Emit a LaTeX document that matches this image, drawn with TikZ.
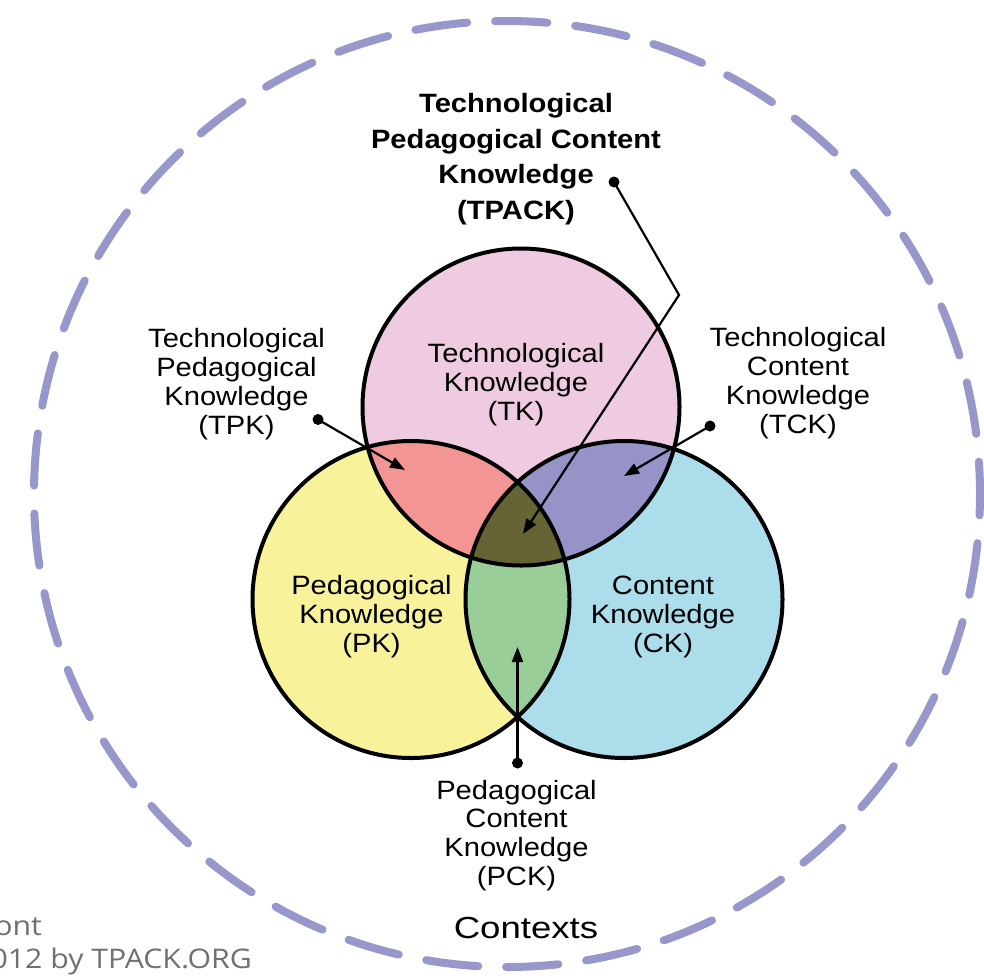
\documentclass[tikz,border=0pt]{standalone}
\usepackage{fontspec}
\setmainfont{Liberation Sans}[FakeStretch=1.1]
\newfontfamily\ctxfont{Liberation Sans}[FakeStretch=1.2]
\newfontfamily\notefont{Open Sans}[FakeStretch=1.12]
\usetikzlibrary{arrows.meta}
\definecolor{tkc}{HTML}{EFCBE1}
\definecolor{pkc}{HTML}{F8F29A}
\definecolor{ckc}{HTML}{ABDDEA}
\definecolor{tpkc}{HTML}{F49595}
\definecolor{tckc}{HTML}{9593C8}
\definecolor{pckc}{HTML}{99CE99}
\definecolor{tpackc}{HTML}{666434}
\definecolor{ctxc}{HTML}{9897CB}
\definecolor{notec}{HTML}{707070}
\newcommand{\myR}{158.5pt}
\begin{document}
\begin{tikzpicture}[x=1pt,y=-1pt,
  lbl/.style={align=center, inner sep=0pt, anchor=base, font=\fontsize{26.5}{28.8}\selectfont},
  ttl/.style={align=center, inner sep=0pt, anchor=base, font=\bfseries\fontsize{26.5}{35.5}\selectfont},
  ring/.style={line width=4pt},
  conn/.style={line width=2.2pt, -{Triangle[length=15pt,width=11pt]}},
  dotnode/.style={circle, fill=black, inner sep=0pt, minimum size=11pt},
  ctxring/.style={line width=8pt, draw=ctxc, line cap=round, dash pattern=on 52.3pt off 28pt, dash phase=20pt},
  note/.style={inner sep=0pt, anchor=base east, text=notec, font=\notefont\fontsize{27}{30}\selectfont}
]
\useasboundingbox (0,0) rectangle (984,975);
\fill[white] (0,0) rectangle (984,975);

% outer contexts ring
\draw[ctxring] (507,494) circle[radius=473pt];

% circle centres
\coordinate (ctk) at (521,407);
\coordinate (cpk) at (411,599.5);
\coordinate (cck) at (624,599.5);

% base fills
\fill[tkc] (ctk) circle[radius=\myR];
\fill[pkc] (cpk) circle[radius=\myR];
\fill[ckc] (cck) circle[radius=\myR];
% pairwise overlaps
\begin{scope}
  \clip (ctk) circle[radius=\myR];
  \fill[tpkc] (cpk) circle[radius=\myR];
  \fill[tckc] (cck) circle[radius=\myR];
\end{scope}
\begin{scope}
  \clip (cpk) circle[radius=\myR];
  \fill[pckc] (cck) circle[radius=\myR];
\end{scope}
% triple overlap
\begin{scope}
  \clip (ctk) circle[radius=\myR];
  \clip (cpk) circle[radius=\myR];
  \fill[tpackc] (cck) circle[radius=\myR];
\end{scope}
% outlines
\draw[ring] (ctk) circle[radius=\myR];
\draw[ring] (cpk) circle[radius=\myR];
\draw[ring] (cck) circle[radius=\myR];

% labels (anchor = baseline of the last line)
\node[ttl] (tpack) at (516,219) {Technological\\Pedagogical Content\\Knowledge\\(TPACK)};
\node[lbl] (tk) at (516,420.5) {Technological\\Knowledge\\(TK)};
\node[lbl] (tpk) at (236.5,434) {Technological\\Pedagogical\\Knowledge\\(TPK)};
\node[lbl] (tck) at (798,433) {Technological\\Content\\Knowledge\\(TCK)};
\node[lbl] (pk) at (371.5,652.5) {Pedagogical\\Knowledge\\(PK)};
\node[lbl] (ck) at (663,652.5) {Content\\Knowledge\\(CK)};
\node[lbl] (pck) at (516.5,885.5) {Pedagogical\\Content\\Knowledge\\(PCK)};
\node[inner sep=0pt, anchor=base, font=\ctxfont\fontsize{30.5}{34}\selectfont] (ctx) at (526,938) {Contexts};
\node[note] (note1) at (42,935) {ont};
\node[note] (note2) at (252,968) {012 by TPACK.ORG};

% connectors
\node[dotnode] (dtpack) at (614,182) {};
\coordinate (btpack) at (679,295);
\coordinate (atpack) at (523,534);
\draw[conn] (dtpack.center) -- (btpack) -- (atpack);

\node[dotnode] (dtpk) at (318,419.5) {};
\coordinate (atpk) at (405,470);
\draw[conn] (dtpk.center) -- (atpk);

\node[dotnode] (dtck) at (710,426) {};
\coordinate (atck) at (624,476);
\draw[conn] (dtck.center) -- (atck);

\node[dotnode] (dpck) at (517.5,763) {};
\coordinate (apck) at (517.5,647);
\draw[conn] (dpck.center) -- (apck);
\end{tikzpicture}
\end{document}
